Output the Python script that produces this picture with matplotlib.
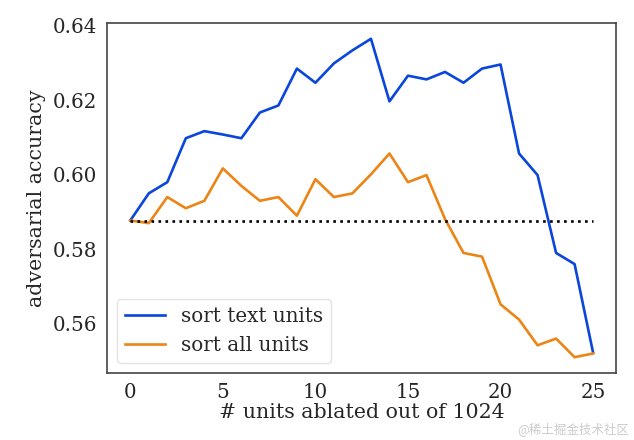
import matplotlib
matplotlib.use("Agg")
import matplotlib.pyplot as plt

units = list(range(26))
text_units = [0.5877, 0.5950, 0.5980, 0.6098, 0.6117, 0.6108, 0.6098, 0.6167, 0.6186,
              0.6285, 0.6247, 0.6299, 0.6334, 0.6365, 0.6197, 0.6266, 0.6256, 0.6276,
              0.6247, 0.6285, 0.6296, 0.6057, 0.5999, 0.5790, 0.5760, 0.5522]
all_units = [0.5877, 0.5870, 0.5940, 0.5910, 0.5930, 0.6017, 0.5970, 0.5930, 0.5940,
             0.5890, 0.5988, 0.5940, 0.5950, 0.6001, 0.6057, 0.5980, 0.5999, 0.5881,
             0.5790, 0.5780, 0.5652, 0.5611, 0.5542, 0.5560, 0.5510, 0.5520]
baseline = 0.5877

plt.rcParams['font.family'] = ['DejaVu Serif']

fig = plt.figure(figsize=(6.34, 4.40), dpi=100)
ax = fig.add_axes([0.169, 0.152, 0.803, 0.796])

ax.plot(units, text_units, color="#0a45dc", lw=1.9, label="sort text units")
ax.plot(units, all_units, color="#ec8416", lw=1.9, label="sort all units")
ax.plot([units[0], units[-1]], [baseline, baseline], color="black", linestyle=":", lw=1.9)

ax.set_yticks([0.56, 0.58, 0.60, 0.62, 0.64])
ax.set_xticks([0, 5, 10, 15, 20, 25])
ax.tick_params(labelsize=14.3, colors="#262626", length=0, pad=7)
for s in ax.spines.values():
    s.set_color("#444444")
    s.set_linewidth(1.2)

ax.set_xlabel("# units ablated out of 1024", fontsize=14.8, color="#262626", labelpad=1)
ax.set_ylabel("adversarial accuracy", fontsize=14.8, color="#262626", labelpad=5)

leg = ax.legend(loc="lower left", fontsize=14.3, handlelength=2.0, borderaxespad=0.5)
leg.get_frame().set_edgecolor("#dddddd")
for t in leg.get_texts():
    t.set_color("#262626")

fig.text(0.992, 0.008, "@稀土掘金技术社区", ha="right", va="bottom", fontsize=9,
         color="#cccccc", family=["Noto Sans CJK SC", "DejaVu Sans"])

fig.savefig("out.png", dpi=100)
